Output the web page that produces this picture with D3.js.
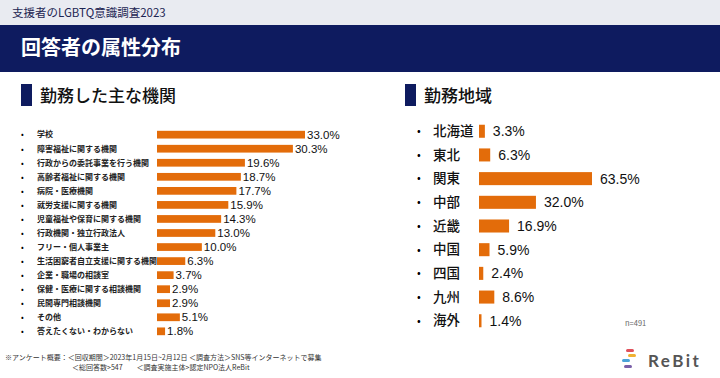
<!DOCTYPE html>
<html>
<head>
<meta charset="utf-8">
<script src="https://cdn.jsdelivr.net/npm/d3@7"></script>
<style>
  body { margin: 0; background: #fff; }
  svg { display: block; font-family: "Noto Sans CJK JP", "Noto Sans", sans-serif; }
</style>
</head>
<body>
<svg id="chart" width="720" height="378"></svg>
<script>
// data
const orgLabels = ["学校", "障害福祉に関する機関", "行政からの委託事業を行う機関", "高齢者福祉に関する機関",
  "病院・医療機関", "就労支援に関する機関", "児童福祉や保育に関する機関", "行政機関・独立行政法人",
  "フリー・個人事業主", "生活困窮者自立支援に関する機関", "企業・職場の相談室", "保健・医療に関する相談機関",
  "民間専門相談機関", "その他", "答えたくない・わからない"]
const orgValues = [33.0, 30.3, 19.6, 18.7, 17.7, 15.9, 14.3, 13.0, 10.0, 6.3, 3.7, 2.9, 2.9, 5.1, 1.8]

const regionLabels = ["北海道", "東北", "関東", "中部", "近畿", "中国", "四国", "九州", "海外"]
const regionValues = [3.3, 6.3, 63.5, 32.0, 16.9, 5.9, 2.4, 8.6, 1.4]

const navy = "#0e1b5f", orange = "#e36c0a"
const svg = d3.select("#chart")

// header bands
svg.append("rect").attr("x", 0).attr("y", 0).attr("width", 720).attr("height", 25).attr("fill", "#e9ebf1")
svg.append("text").attr("x", 12).attr("y", 17).attr("font-size", 11.5).attr("fill", "#1c2452")
  .text("支援者のLGBTQ意識調査2023")
svg.append("rect").attr("x", 0).attr("y", 25).attr("width", 720).attr("height", 47).attr("fill", navy)
svg.append("text").attr("x", 21).attr("y", 55).attr("font-size", 20).attr("font-weight", "bold")
  .attr("fill", "#fff").text("回答者の属性分布")

// section headings
function heading(x, label) {
  svg.append("rect").attr("x", x).attr("y", 84).attr("width", 11).attr("height", 22).attr("fill", navy)
  svg.append("text").attr("x", x + 19).attr("y", 102).attr("font-size", 17).attr("font-weight", 500)
    .attr("fill", "#111").text(label)
}
heading(21, "勤務した主な機関")
heading(405, "勤務地域")

// left chart
const x1 = d3.scaleLinear().domain([0, 33]).range([157, 305])
const y1 = d3.scaleBand().domain(orgLabels).range([128, 338]).paddingInner(0.45).paddingOuter(0.2)

const left = svg.append("g")
const lrow = left.selectAll("g").data(orgLabels).join("g")
  .attr("transform", d => "translate(0," + (y1(d) + y1.bandwidth() / 2) + ")")
lrow.append("text").attr("x", 21).attr("dy", "0.35em").attr("font-size", 8).text("•")
lrow.append("text").attr("x", 37).attr("dy", "0.35em").attr("font-size", 8).attr("font-weight", "bold")
  .attr("fill", "#222").text(d => d)
lrow.append("rect").attr("x", x1(0)).attr("y", -y1.bandwidth() / 2)
  .attr("width", (d, i) => x1(orgValues[i]) - x1(0)).attr("height", y1.bandwidth()).attr("fill", orange)
lrow.append("text").attr("x", (d, i) => x1(orgValues[i]) + 2).attr("dy", "0.35em")
  .attr("font-family", "Liberation Sans, Arial, sans-serif").attr("font-size", 11.5).attr("fill", "#111")
  .text((d, i) => orgValues[i].toFixed(1) + "%")

// right chart
const x2 = d3.scaleLinear().domain([0, 63.5]).range([479, 592])
const y2 = d3.scaleBand().domain(regionLabels).range([120, 332]).paddingInner(0.45).paddingOuter(0.2)

const right = svg.append("g")
const rrow = right.selectAll("g").data(regionLabels).join("g")
  .attr("transform", d => "translate(0," + (y2(d) + y2.bandwidth() / 2) + ")")
rrow.append("text").attr("x", 417).attr("dy", "0.35em").attr("font-size", 11).text("•")
rrow.append("text").attr("x", 433).attr("dy", "0.35em").attr("font-size", 13.5).attr("font-weight", 500)
  .attr("fill", "#111").text(d => d)
rrow.append("rect").attr("x", x2(0)).attr("y", -y2.bandwidth() / 2)
  .attr("width", (d, i) => Math.max(2, x2(regionValues[i]) - x2(0))).attr("height", y2.bandwidth())
  .attr("fill", orange)
rrow.append("text").attr("x", (d, i) => Math.max(x2(regionValues[i]), x2(0) + 2) + 8).attr("dy", "0.35em")
  .attr("font-family", "Liberation Sans, Arial, sans-serif").attr("font-size", 14).attr("fill", "#111")
  .text((d, i) => regionValues[i].toFixed(1) + "%")

svg.append("text").attr("x", 625).attr("y", 326).attr("font-size", 7.5).attr("fill", "#666").text("n=491")

// footnote
const note = svg.append("text").attr("font-size", 7).attr("fill", "#333")
note.append("tspan").attr("x", 5).attr("y", 360)
  .text("※アンケート概要：＜回収期間＞2023年1月15日~2月12日 ＜調査方法＞SNS等インターネットで募集")
note.append("tspan").attr("x", 72).attr("y", 370)
  .text("＜総回答数>547　　＜調査実施主体>認定NPO法人ReBit")

// logo
const stripes = [["#e0505a", 626, 349], ["#f0b132", 628, 354], ["#4aa3d8", 622, 359], ["#7a5fa8", 624, 365]]
svg.append("g").selectAll("rect").data(stripes).join("rect")
  .attr("x", d => d[1]).attr("y", d => d[2]).attr("width", 8).attr("height", 3).attr("rx", 1.5).attr("fill", d => d[0])
svg.append("text").attr("x", 648).attr("y", 367).attr("font-family", "Lato, sans-serif")
  .attr("font-size", 17).attr("font-weight", "bold").attr("letter-spacing", 2.5)
  .attr("fill", "#555").text("ReBit")
</script>
</body>
</html>
